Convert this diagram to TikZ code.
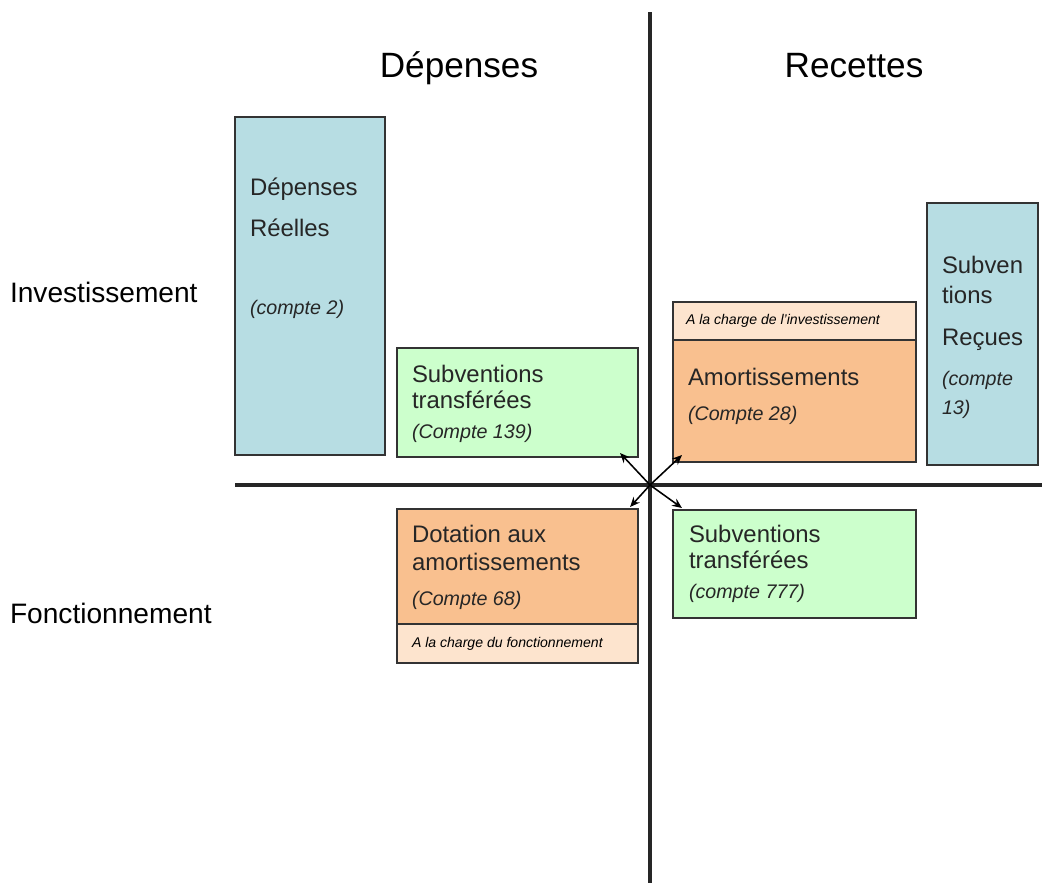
\documentclass[tikz,border=0pt]{standalone}
\usepackage{fontspec}
\setmainfont{Liberation Sans}
\usepackage{xcolor}
\usetikzlibrary{positioning,arrows.meta}
\definecolor{bleu}{HTML}{B7DDE3}
\definecolor{vert}{HTML}{CCFFCC}
\definecolor{orange}{HTML}{F9C08F}
\definecolor{peche}{HTML}{FDE4CE}

\begin{document}
\begin{tikzpicture}[x=0.025cm,y=-0.025cm,>={Stealth[length=7pt,width=6pt]},semithick,inner sep=0pt,outer sep=0pt]
                \tikzstyle{box}=[draw=black!80,line width=0.9pt,anchor=north west]
                \tikzstyle{txt}=[anchor=base west,font=\fontsize{17}{20}\selectfont,text=black!85]
                \tikzstyle{cpt}=[anchor=base west,font=\fontsize{14}{17}\selectfont\itshape,text=black!85]
                \tikzstyle{note}=[anchor=base west,font=\fontsize{10}{12}\selectfont\itshape]
                \useasboundingbox (0,0) rectangle (1042,883);
                % axes
                \coordinate (top) at (650,12);
                \coordinate (bot) at (650,883);
                \coordinate (lft) at (235,485);
                \coordinate (rgt) at (1042,485);
                \coordinate (c) at (650,485);
                \draw[line width=2.2pt,black!85] (top) -- (bot);
                \draw[line width=2.2pt,black!85] (lft) -- (rgt);
                % titres
                \node[anchor=base,font=\fontsize{25}{30}\selectfont] (dep) at (459,77) {Dépenses};
                \node[anchor=base,font=\fontsize{25}{30}\selectfont] (rec) at (854,77) {Recettes};
                \node[anchor=base west,font=\fontsize{20}{24}\selectfont] (inv) at (10,302) {Investissement};
                \node[anchor=base west,font=\fontsize{20}{24}\selectfont] (fonc) at (10,623) {Fonctionnement};
                % boites
                \node[box,fill=bleu,minimum width=3.75cm,minimum height=8.45cm] (reel) at (235,117) {};
                \node[box,fill=vert,minimum width=6.025cm,minimum height=2.725cm] (sub1) at (397,348) {};
                \node[box,fill=peche,minimum width=6.075cm,minimum height=0.95cm] (chi) at (673,302) {};
                \node[box,fill=orange,minimum width=6.075cm,minimum height=3.05cm] (amo) at (673,340) {};
                \node[box,fill=bleu,minimum width=2.775cm,minimum height=6.55cm] (recu) at (927,203) {};
                \node[box,fill=orange,minimum width=6.025cm,minimum height=2.875cm] (dot) at (397,509) {};
                \node[box,fill=peche,minimum width=6.025cm,minimum height=0.975cm] (chf) at (397,624) {};
                \node[box,fill=vert,minimum width=6.075cm,minimum height=2.7cm] (sub2) at (673,510) {};
                % textes
                \node[txt] (t1) at (250,195) {Dépenses};
                \node[txt] (t2) at (250,236) {Réelles};
                \node[cpt] (t3) at (250,314) {(compte 2)};
                \node[txt] (t4) at (412,382) {Subventions};
                \node[txt] (t5) at (412,408) {transférées};
                \node[cpt] (t6) at (412,438) {(Compte 139)};
                \node[note] (t7) at (686,324) {A la charge de l'investissement};
                \node[txt] (t8) at (688,385) {Amortissements};
                \node[cpt] (t9) at (688,420) {(Compte 28)};
                \node[txt] (t10) at (942,273) {Subven};
                \node[txt] (t11) at (942,303) {tions};
                \node[txt] (t12) at (942,345) {Reçues};
                \node[cpt] (t13) at (942,385) {(compte};
                \node[cpt] (t14) at (942,414) {13)};
                \node[txt] (t15) at (412,542) {Dotation aux};
                \node[txt] (t16) at (412,570) {amortissements};
                \node[cpt] (t17) at (412,605) {(Compte 68)};
                \node[note] (t18) at (412,647) {A la charge du fonctionnement};
                \node[txt] (t19) at (689,542) {Subventions};
                \node[txt] (t20) at (689,568) {transférées};
                \node[cpt] (t21) at (689,598) {(compte 777)};
                % fleches
                \draw[->,line width=1.1pt] (c) -- ([shift={(-18,-4)}]sub1.south east);
                \draw[->,line width=1.1pt] (c) -- ([shift={(9,-7)}]amo.south west);
                \draw[->,line width=1.1pt] (c) -- ([shift={(-8,-2)}]dot.north east);
                \draw[->,line width=1.1pt] (c) -- ([shift={(9,-2)}]sub2.north west);
            \end{tikzpicture}
\end{document}
